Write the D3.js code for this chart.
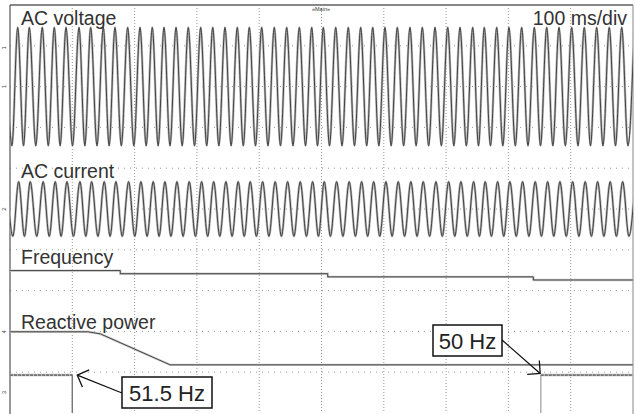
<!DOCTYPE html>
<html>
<head>
<meta charset="utf-8">
<script src="https://cdn.jsdelivr.net/npm/d3@7"></script>
<style>
  body { margin:0; background:#fff; }
  svg text { font-family: "Liberation Sans", Arial, sans-serif; }
</style>
</head>
<body>
<svg width="635" height="414"></svg>
<script>
// time axis: 10 div x 100 ms
const timeTicks = [0,100,200,300,400,500,600,700,800,900,1000]
const divTicks = [-5,-4,-3,-2,-1,0,1,2,3,4,5]

// peak times of the AC waveform (ms)
const peakTimes = [12.4,31.0,51.8,71.1,89.9,110.8,129.5,149.8,168.5,188.9,
  208.7,228.4,247.2,266.5,286.2,306.1,325.4,345.1,364.8,384.1,
  404.0,424.2,444.1,464.4,484.3,502.9,522.8,543.0,562.9,582.2,
  601.9,621.7,642.0,661.8,682.2,702.6,722.3,742.7,761.3,781.2,
  800.9,821.3,841.6,861.5,881.2,901.6,921.8,941.7,961.9,981.9]

// channel levels in divisions (0 = screen centre)
const voltageCenter = 3, voltageAmp = 1.45
const currentCenter = 0, currentAmp = 0.67
const currentShift = 1.5  // ms, current peaks sit a bit later

// frequency steps
const freqTimes = [0,177,510,840]
const freqValues = [51.5,51.0,50.5,50.0]

// reactive power (div)
const rpTimes = [0,125,145,257,1000]
const rpValues = [-3.01,-3.01,-3.06,-3.82,-3.82]

// digital trigger channel
const digTimes = [0,100,852,1000]
const digValues = [1,0,1,1]

const labels = [
  {text:'AC voltage', div:4.5},
  {text:'AC current', div:0.76},
  {text:'Frequency', div:-1.35},
  {text:'Reactive power', div:-2.93}
]

const svg = d3.select('svg')
const x = d3.scaleLinear().domain([0,1000]).range([10,633])
const y = d3.scaleLinear().domain([-5,5]).range([413,5])
const fy = d3.scaleLinear().domain([50,51.5]).range([y(-1.74), y(-1.51)])
const digY = d3.scaleLinear().domain([0,1]).range([y(-5.4), y(-4.07)])

svg.append('clipPath').attr('id','plot')
   .append('rect').attr('x',10).attr('y',5).attr('width',623).attr('height',408)

// grid
const grid = svg.append('g')
grid.selectAll('.vg').data(timeTicks.slice(1,-1)).enter().append('line')
    .attr('x1',d=>x(d)).attr('x2',d=>x(d)).attr('y1',5).attr('y2',413)
    .attr('stroke','#999').attr('stroke-width',1).attr('stroke-dasharray','1,2')
grid.selectAll('.hg').data(divTicks.slice(1,-1)).enter().append('line')
    .attr('x1',10).attr('x2',633).attr('y1',d=>y(d)).attr('y2',d=>y(d))
    .attr('stroke','#999').attr('stroke-width',1).attr('stroke-dasharray','1,5')

// frame
svg.append('line').attr('x1',10).attr('x2',633).attr('y1',5).attr('y2',5)
   .attr('stroke','#888').attr('stroke-width',2)
svg.append('line').attr('x1',10).attr('x2',10).attr('y1',5).attr('y2',414)
   .attr('stroke','#555').attr('stroke-width',1.2)
svg.append('line').attr('x1',633).attr('x2',633).attr('y1',5).attr('y2',414)
   .attr('stroke','#888').attr('stroke-width',1)

// build waveform points: peaks + troughs halfway
const wavePoints = (center, amp, shift) => {
  const pts = []
  const n = peakTimes.length
  const first = peakTimes[1]-peakTimes[0]
  pts.push({t:peakTimes[0]-first+shift, v:center+amp})
  for (let i=0;i<n;i++) {
    const half = i<n-1 ? (peakTimes[i+1]-peakTimes[i])/2 : (peakTimes[i]-peakTimes[i-1])/2
    const prevHalf = i>0 ? (peakTimes[i]-peakTimes[i-1])/2 : first/2
    pts.push({t:peakTimes[i]-prevHalf+shift, v:center-amp})
    pts.push({t:peakTimes[i]+shift, v:center+amp})
    if (i==n-1) {
      pts.push({t:peakTimes[i]+half+shift, v:center-amp})
      pts.push({t:peakTimes[i]+2*half+shift, v:center+amp})
    }
  }
  return pts
}

const waveLine = d3.line().x(d=>x(d.t)).y(d=>y(d.v)).curve(d3.curveMonotoneX)
const traces = svg.append('g').attr('clip-path','url(#plot)')

const drawTrace = (path, under) => {
  traces.append('path').attr('d',path).attr('fill','none')
        .attr('stroke', under || '#b8b8b8').attr('stroke-width',2.4)
  traces.append('path').attr('d',path).attr('fill','none')
        .attr('stroke','#333').attr('stroke-width',0.9)
}

drawTrace(waveLine(wavePoints(voltageCenter, voltageAmp, 0)))
drawTrace(waveLine(wavePoints(currentCenter, currentAmp, currentShift)))

const freqData = freqTimes.map((t,i)=>({t:t, f:freqValues[i]}))
freqData.push({t:1000, f:freqValues[freqValues.length-1]})
drawTrace(d3.line().x(d=>x(d.t)).y(d=>fy(d.f)).curve(d3.curveStepAfter)(freqData), '#ccc')

const rpData = rpTimes.map((t,i)=>({t:t, v:rpValues[i]}))
drawTrace(d3.line().x(d=>x(d.t)).y(d=>y(d.v))(rpData), '#ccc')

// digital channel: levels dark, edges light grey
const digData = digTimes.map((t,i)=>({t:t, v:digValues[i]}))
const digLine = d3.line().x(d=>x(d.t)).y(d=>digY(d.v))
digData.forEach((d,i) => {
  if (i==0) return
  const p = digData[i-1]
  // vertical edge
  traces.append('path').attr('d',digLine([{t:d.t,v:p.v},{t:d.t,v:d.v}])).attr('fill','none')
        .attr('stroke', p.v < d.v ? '#aaa' : '#777').attr('stroke-width',1.4)
})
digData.forEach((d,i) => {
  if (i==digData.length-1 || d.v==0) return
  const seg = [d, {t:digData[i+1].t, v:d.v}]
  traces.append('path').attr('d',digLine(seg)).attr('fill','none')
        .attr('stroke','#bbb').attr('stroke-width',2.4)
  traces.append('path').attr('d',digLine(seg)).attr('fill','none')
        .attr('stroke','#333').attr('stroke-width',0.9).attr('stroke-dasharray','3,1')
})

// labels
svg.selectAll('.lbl').data(labels).enter().append('text')
   .attr('x',21).attr('y',d=>y(d.div)).text(d=>d.text)
   .attr('font-size',19.5).attr('fill','#333')
svg.append('text').attr('x',627).attr('y',y(4.5)).attr('text-anchor','end')
   .attr('font-size',19.5).attr('fill','#333').text('100 ms/div')
svg.append('text').attr('x',321).attr('y',11).attr('text-anchor','middle')
   .attr('font-size',5.5).attr('fill','#333').text('«Main»')

// channel markers at left
const markers = [{div:3.95, t:'1'},{div:3,t:'1'},{div:0,t:'2'},{div:-3.01,t:'4'},{div:-4.5,t:'3'}]
svg.selectAll('.mk').data(markers).enter().append('text')
   .attr('transform',d=>`translate(6,${y(d.div)}) rotate(-90)`)
   .attr('text-anchor','middle').attr('font-size',6).attr('fill','#444').text(d=>d.t)

// callouts
const callouts = [
  {text:'51.5 Hz', tipT:108, tipDiv:-4.07, bx:122, by:377, bw:90, bh:31, ax:122, ay:393},
  {text:'50 Hz', tipT:851, tipDiv:-4.03, bx:433, by:325, bw:69, bh:31, ax:502, ay:340}
]
callouts.forEach(c => {
  const tx = x(c.tipT), ty = y(c.tipDiv)
  const ang = Math.atan2(c.ay-ty, c.ax-tx)
  const L = 13, a = Math.PI/4
  const g = svg.append('g')
  g.append('line').attr('x1',c.ax).attr('y1',c.ay).attr('x2',tx).attr('y2',ty)
   .attr('stroke','#111').attr('stroke-width',1.3)
  const head = d3.path()
  head.moveTo(tx+L*Math.cos(ang-a), ty+L*Math.sin(ang-a))
  head.lineTo(tx,ty)
  head.lineTo(tx+L*Math.cos(ang+a), ty+L*Math.sin(ang+a))
  g.append('path').attr('d',head.toString()).attr('fill','none')
   .attr('stroke','#111').attr('stroke-width',1.3)
  g.append('rect').attr('x',c.bx).attr('y',c.by).attr('width',c.bw).attr('height',c.bh)
   .attr('fill','#fff').attr('stroke','#111').attr('stroke-width',1.5)
  g.append('text').attr('x',c.bx+c.bw/2).attr('y',c.by+c.bh/2+8).attr('text-anchor','middle')
   .attr('font-size',22).attr('fill','#222').text(c.text)
})
</script>
</body>
</html>
